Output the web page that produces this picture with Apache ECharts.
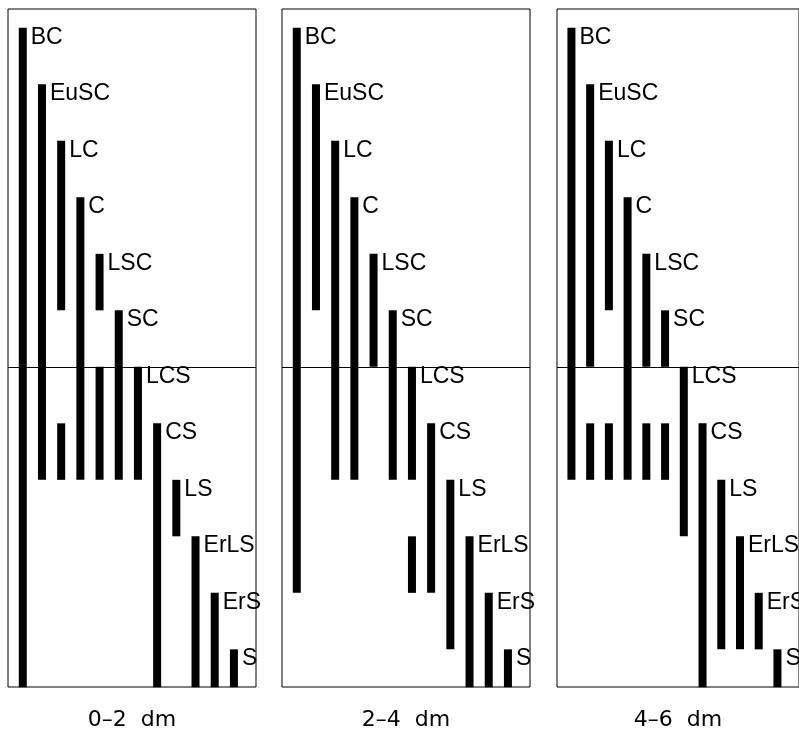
<!DOCTYPE html>
<html>
<head>
  <meta charset="utf-8" />
  <title>profile ranges</title>
  <style>
    html, body { margin: 0; padding: 0; background: #fff; }
    #chart { width: 799px; height: 736px; }
  </style>
</head>
<body>
  <div id="chart"></div>
  <script src="https://cdn.jsdelivr.net/npm/echarts@6/dist/echarts.min.js"></script>
  <script>
    // categories, one column per category, each starts at its own level
    var categories = ['BC', 'EuSC', 'LC', 'C', 'LSC', 'SC', 'LCS', 'CS', 'LS', 'ErLS', 'ErS', 'S'];
    var panelNames = ['0\u20132  dm', '2\u20134  dm', '4\u20136  dm'];
    var BASE = 11.67;      // bottom of the panel
    var SPLIT_LEVEL = 6;   // horizontal rule

    // [category index, from level, to level]
    var ranges0to2 = [
      [0, 0, BASE], [1, 1, 8], [2, 2, 5], [2, 7, 8], [3, 3, 8],
      [4, 4, 5], [4, 6, 8], [5, 5, 8], [6, 6, 8], [7, 7, BASE],
      [8, 8, 9], [9, 9, BASE], [10, 10, BASE], [11, 11, BASE]
    ];
    var ranges2to4 = [
      [0, 0, 10], [1, 1, 5], [2, 2, 8], [3, 3, 8], [4, 4, 6],
      [5, 5, 8], [6, 6, 8], [6, 9, 10], [7, 7, 10], [8, 8, 11],
      [9, 9, BASE], [10, 10, BASE], [11, 11, BASE]
    ];
    var ranges4to6 = [
      [0, 0, 8], [1, 1, 6], [1, 7, 8], [2, 2, 5], [2, 7, 8],
      [3, 3, 8], [4, 4, 6], [4, 7, 8], [5, 5, 6], [5, 7, 8],
      [6, 6, 9], [7, 7, BASE], [8, 8, 11], [9, 9, 11], [10, 10, 11],
      [11, 11, BASE]
    ];
    var panelData = [ranges0to2, ranges2to4, ranges4to6];

    var gridLefts = [8, 282, 557];
    var barW = 8;

    function renderItem(params, api) {
      var c = api.value(0);
      var from = api.value(1);
      var to = api.value(2);
      var p0 = api.coord([c, from]);
      var p1 = api.coord([c, to]);
      var kids = [{
        type: 'rect',
        shape: { x: p0[0] - barW / 2, y: p0[1], width: barW, height: p1[1] - p0[1] },
        style: { fill: '#000' }
      }];
      if (from === c) {
        kids.push({
          type: 'text',
          x: p0[0] + barW / 2 + 4,
          y: p0[1] - 2,
          style: {
            text: categories[c],
            fill: '#000',
            font: '23px "Liberation Sans", Arial, sans-serif',
            align: 'left',
            verticalAlign: 'top',
            textAlign: 'left',
            textVerticalAlign: 'top'
          }
        });
      }
      return { type: 'group', children: kids };
    }

    var grids = [], xAxes = [], yAxes = [], series = [];
    for (var i = 0; i < 3; i++) {
      grids.push({
        show: true, left: gridLefts[i], top: 9, width: 248, height: 683,
        borderColor: '#000', borderWidth: 1, backgroundColor: 'transparent'
      });
      xAxes.push({
        type: 'value', gridIndex: i, min: -0.77, max: 12.15,
        name: panelNames[i], nameLocation: 'middle', nameGap: 22,
        nameTextStyle: { color: '#000', fontSize: 22, fontFamily: 'DejaVu Sans' },
        axisLine: { show: false }, axisTick: { show: false },
        axisLabel: { show: false }, splitLine: { show: false }
      });
      yAxes.push({
        type: 'value', gridIndex: i, inverse: true, min: -1 / 3, max: 35 / 3,
        axisLine: { show: false }, axisTick: { show: false },
        axisLabel: { show: false }, splitLine: { show: false }
      });
      series.push({
        type: 'custom',
        xAxisIndex: i, yAxisIndex: i,
        renderItem: renderItem,
        clip: false,
        silent: true,
        animation: false,
        data: panelData[i],
        markLine: {
          silent: true, symbol: 'none', animation: false,
          label: { show: false },
          lineStyle: { color: '#000', width: 1, type: 'solid' },
          data: [{ yAxis: SPLIT_LEVEL }]
        }
      });
    }

    var myChart = echarts.init(document.getElementById('chart'));
    myChart.setOption({
      backgroundColor: '#fff',
      animation: false,
      grid: grids,
      xAxis: xAxes,
      yAxis: yAxes,
      series: series
    });
  </script>
</body>
</html>
